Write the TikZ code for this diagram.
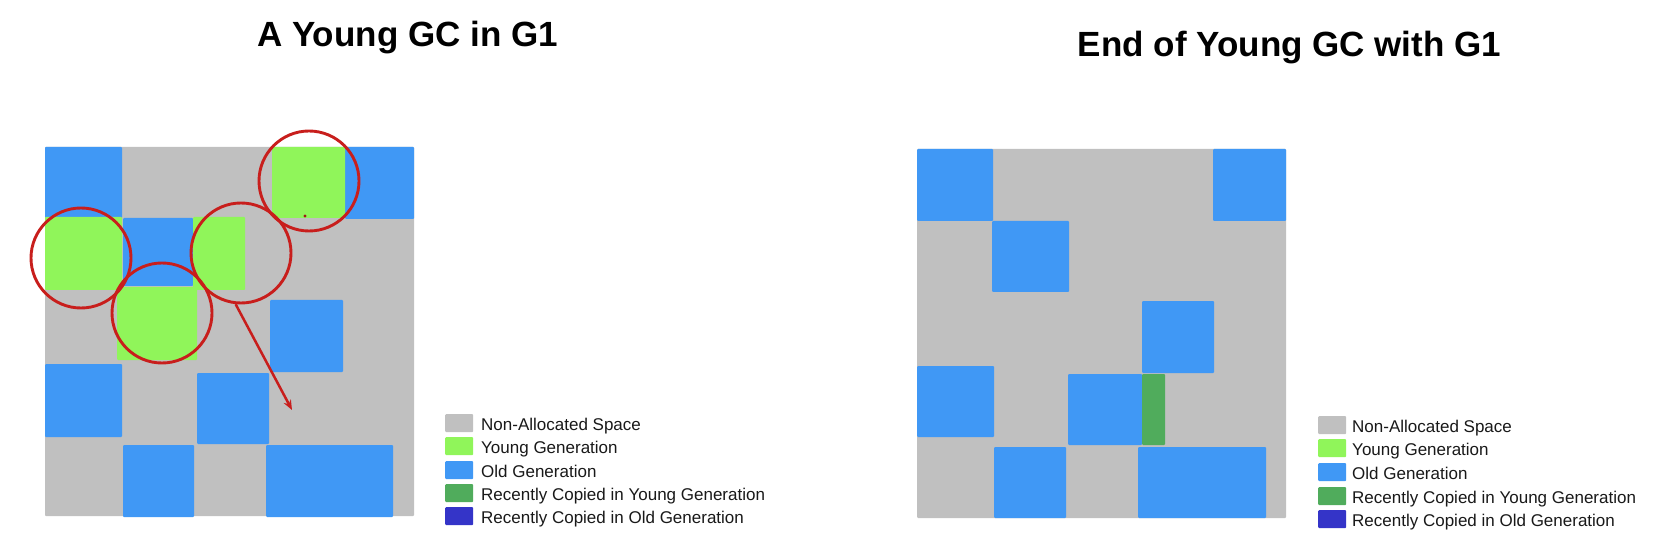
\documentclass[tikz,border=0pt]{standalone}
\usepackage{fontspec}
\setmainfont{Liberation Sans}
\usetikzlibrary{arrows.meta}
\definecolor{freegray}{RGB}{192,192,192}
\definecolor{younggreen}{RGB}{144,245,90}
\definecolor{oldblue}{RGB}{64,152,245}
\definecolor{copyyoung}{RGB}{80,172,92}
\definecolor{copyold}{RGB}{52,52,200}
\definecolor{markred}{RGB}{200,30,28}
\tikzset{
  region/.style={draw=none, rounded corners=1bp},
  freebox/.style={region, fill=freegray},
  youngbox/.style={region, fill=younggreen},
  oldbox/.style={region, fill=oldblue},
  cyoungbox/.style={region, fill=copyyoung},
  coldbox/.style={region, fill=copyold},
  swatch/.style={draw=none, rounded corners=1bp, minimum width=28bp, minimum height=18bp, inner sep=0pt, anchor=north west},
  legtext/.style={anchor=base west, inner sep=0pt, text=black!90, font=\fontsize{17bp}{20bp}\selectfont},
  titletext/.style={anchor=base, inner sep=0pt, font=\bfseries\fontsize{35bp}{42bp}\selectfont},
  ring/.style={circle, draw=markred, line width=2.9bp, minimum size=100bp, inner sep=0pt},
}
\begin{document}
\begin{tikzpicture}[x=1bp,y=-1bp]
\useasboundingbox (0,0) rectangle (1670,552);
\fill[white] (0,0) rectangle (1670,552);

% titles
\node[titletext] (t1) at (407.5,47) {A Young GC in G1};
\node[titletext] (t2) at (1289.5,57) {End of Young GC with G1};

% ---------- left heap ----------
\fill[freebox] (45,147) rectangle (414,516);
\fill[oldbox] (45,147) rectangle (122,218);
\fill[oldbox] (123,218) rectangle (193,286);
\fill[oldbox] (345,147) rectangle (414,219);
\fill[oldbox] (270,300) rectangle (343,372);
\fill[oldbox] (45,364) rectangle (122,437);
\fill[oldbox] (197,373) rectangle (269,444);
\fill[oldbox] (123,445) rectangle (194,517);
\fill[oldbox] (266,445) rectangle (393,517);
\fill[youngbox] (45,217) rectangle (122,290);
\fill[youngbox] (193,217) rectangle (245,290);
\fill[youngbox] (117,287) rectangle (197,360);
\fill[youngbox] (272,147) rectangle (345,218);

% red rings
\node[ring] (r1) at (309,181) {};
\node[ring] (r2) at (81,258) {};
\node[ring] (r3) at (162,313) {};
\node[ring] (r4) at (241,253) {};
\fill[markred!80!black] (305,216) circle (1.6bp);
\coordinate (tip) at (292,410);
\draw[markred, line width=2.5bp, -{Stealth[length=10bp,width=8bp]}] (r4.-96) -- (tip);

% left legend
\node[swatch, fill=freegray] (la) at (445,414) {};
\node[swatch, fill=younggreen] (lb) at (445,437) {};
\node[swatch, fill=oldblue] (lc) at (445,461) {};
\node[swatch, fill=copyyoung] (ld) at (445,484) {};
\node[swatch, fill=copyold] (le) at (445,507) {};
\node[legtext] (lta) at (481,430) {Non-Allocated Space};
\node[legtext] (ltb) at (481,453) {Young Generation};
\node[legtext] (ltc) at (481,477) {Old Generation};
\node[legtext] (ltd) at (481,500) {Recently Copied in Young Generation};
\node[legtext] (lte) at (481,523) {Recently Copied in Old Generation};

% ---------- right heap ----------
\fill[freebox] (917,149) rectangle (1286,518);
\fill[oldbox] (917,149) rectangle (993,221);
\fill[oldbox] (1213,149) rectangle (1286,221);
\fill[oldbox] (992,221) rectangle (1069,292);
\fill[oldbox] (1142,301) rectangle (1214,373);
\fill[oldbox] (917,366) rectangle (994,437);
\fill[oldbox] (1068,374) rectangle (1142,445);
\fill[oldbox] (994,447) rectangle (1066,518);
\fill[oldbox] (1138,447) rectangle (1266,518);
\fill[cyoungbox] (1142,374) rectangle (1165,445);

% right legend
\node[swatch, fill=freegray] (ra) at (1318,416) {};
\node[swatch, fill=younggreen] (rb) at (1318,439) {};
\node[swatch, fill=oldblue] (rc) at (1318,463) {};
\node[swatch, fill=copyyoung] (rd) at (1318,487) {};
\node[swatch, fill=copyold] (re) at (1318,510) {};
\node[legtext] (rta) at (1352,432) {Non-Allocated Space};
\node[legtext] (rtb) at (1352,455) {Young Generation};
\node[legtext] (rtc) at (1352,479) {Old Generation};
\node[legtext] (rtd) at (1352,503) {Recently Copied in Young Generation};
\node[legtext] (rte) at (1352,526) {Recently Copied in Old Generation};
\end{tikzpicture}
\end{document}
